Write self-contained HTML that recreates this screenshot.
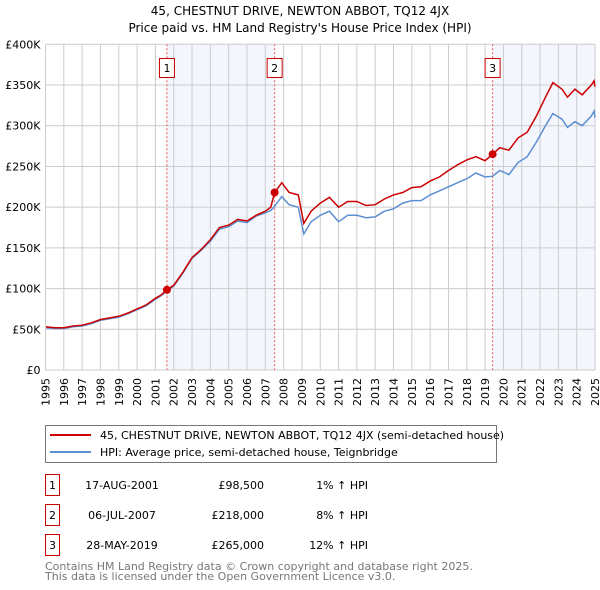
<!DOCTYPE html>
<html><head><meta charset="utf-8">
<style>
body{margin:0;background:#fff;font-family:"DejaVu Sans","Liberation Sans",sans-serif;}
svg{display:block}
</style></head>
<body>
<svg id="chart" width="600" height="590" xmlns="http://www.w3.org/2000/svg" font-family="DejaVu Sans, Liberation Sans, sans-serif">
<text x="300" y="15" text-anchor="middle" font-size="12" fill="#000">45, CHESTNUT DRIVE, NEWTON ABBOT, TQ12 4JX</text>
<text x="300" y="32" text-anchor="middle" font-size="12" fill="#000">Price paid vs. HM Land Registry's House Price Index (HPI)</text>
<g id="plot"></g>
<g>
<rect x="45.5" y="425.5" width="451" height="37" fill="#fff" stroke="#777"/>
<line x1="50" y1="435" x2="91" y2="435" stroke="#cc0000" stroke-width="2"/>
<text x="100" y="439" font-size="11">45, CHESTNUT DRIVE, NEWTON ABBOT, TQ12 4JX (semi-detached house)</text>
<line x1="50" y1="452" x2="91" y2="452" stroke="#5b8fd1" stroke-width="2"/>
<text x="100" y="456" font-size="11">HPI: Average price, semi-detached house, Teignbridge</text>
</g>
<g id="table"></g>
<text x="45" y="570" font-size="11" fill="#777">Contains HM Land Registry data © Crown copyright and database right 2025.</text>
<text x="45" y="580" font-size="11" fill="#777">This data is licensed under the Open Government Licence v3.0.</text>
</svg>
<script>
const years=[1995,1995.5,1996,1996.5,1997,1997.5,1998,1998.5,1999,1999.5,2000,2000.5,2001,2001.3,2001.63,2002,2002.5,2003,2003.5,2004,2004.5,2005,2005.5,2006,2006.5,2007,2007.3,2007.51,2007.9,2008.3,2008.8,2009.1,2009.5,2010,2010.5,2011,2011.5,2012,2012.5,2013,2013.5,2014,2014.5,2015,2015.5,2016,2016.5,2017,2017.5,2018,2018.5,2019,2019.41,2019.8,2020.3,2020.8,2021.3,2021.8,2022.3,2022.7,2023.2,2023.5,2023.9,2024.3,2024.8,2024.95,2025];
const propertyValues=[53,52,52,54,55,58,62,64,66,70,75,80,88,92,98.5,104,120,138,148,160,175,178,185,183,190,195,200,218,230,218,215,180,195,205,212,200,207,207,202,203,210,215,218,224,225,232,237,245,252,258,262,257,265,273,270,285,292,312,335,353,345,335,345,338,350,355,348];
const hpiValues=[52,51,51,53,54,57,61,63,65,69,74,79,87,91,97,103,119,137,147,158,173,176,183,181,189,193,196,201,213,203,200,167,182,190,195,182,190,190,187,188,195,198,205,208,208,215,220,225,230,235,242,237,238,245,240,255,262,280,300,315,308,298,305,300,312,318,310];
const yTicks=[0,50,100,150,200,250,300,350,400];
const yTickLabels=["£0","£50K","£100K","£150K","£200K","£250K","£300K","£350K","£400K"];
const xTicks=[1995,1996,1997,1998,1999,2000,2001,2002,2003,2004,2005,2006,2007,2008,2009,2010,2011,2012,2013,2014,2015,2016,2017,2018,2019,2020,2021,2022,2023,2024,2025];
const saleDates=[2001.63,2007.51,2019.41];
const salePrices=[98.5,218,265];
const saleLabels=["1","2","3"];
const saleDateText=["17-AUG-2001","06-JUL-2007","28-MAY-2019"];
const salePriceText=["£98,500","£218,000","£265,000"];
const saleHpiText=["1% ↑ HPI","8% ↑ HPI","12% ↑ HPI"];

const NS="http://www.w3.org/2000/svg";
const X0=45.5,X1=595,Y0=370,Y1=44.3;
function xs(v){return X0+(v-1995)/(2025-1995)*(X1-X0);}
function ys(v){return Y0-(v/400)*(Y0-Y1);}
function mk(tag,attrs,parent){const e=document.createElementNS(NS,tag);for(const k in attrs)e.setAttribute(k,attrs[k]);parent.appendChild(e);return e;}
const plot=document.getElementById('plot');
mk('rect',{x:X0,y:Y1,width:X1-X0,height:Y0-Y1,fill:'#fff'},plot);
const sh1=mk('rect',{x:xs(saleDates[0]),y:Y1,width:xs(saleDates[1])-xs(saleDates[0]),height:Y0-Y1,fill:'#f3f6fd'},plot);


const sh2=mk('rect',{x:xs(saleDates[2]),y:Y1,width:X1-xs(saleDates[2]),height:Y0-Y1,fill:'#f3f6fd'},plot);


yTicks.forEach((t,i)=>{
  const g=mk('line',{x1:X0,x2:X1,y1:ys(t),y2:ys(t),stroke:'#ccc','stroke-width':1},plot);
  
  
  const l=mk('text',{x:X0-5,y:ys(t)+4,'text-anchor':'end','font-size':11},plot);
  
  
  l.textContent=yTickLabels[i];
});
xTicks.forEach(t=>{
  const g=mk('line',{x1:xs(t),x2:xs(t),y1:Y1,y2:Y0,stroke:'#ccc','stroke-width':1},plot);
  
  
  const l=mk('text',{x:0,y:0,'text-anchor':'end','font-size':11,transform:`translate(${xs(t)+4},${Y0+8}) rotate(-90)`},plot);
  
  
  l.textContent=t;
});
saleDates.forEach((d,i)=>{
  const v=mk('line',{x1:xs(d),x2:xs(d),y1:Y1,y2:Y0,stroke:'#ee5555','stroke-width':1,'stroke-dasharray':'2,2'},plot);
  
  
  const b=mk('rect',{x:xs(d)-7.5,y:58.5,width:15,height:19,fill:'#fff',stroke:'#cc0000'},plot);
  
  
  const t=mk('text',{x:xs(d),y:72,'text-anchor':'middle','font-size':11},plot);
  
  
  t.textContent=saleLabels[i];
});
function path(vals){return vals.map((v,i)=>(i?'L':'M')+xs(years[i]).toFixed(1)+','+ys(v).toFixed(1)).join('');}
const hp=mk('path',{d:path(hpiValues),fill:'none',stroke:'#5b8fd1','stroke-width':1.5},plot);


const pp=mk('path',{d:path(propertyValues),fill:'none',stroke:'#cc0000','stroke-width':1.5},plot);


saleDates.forEach((d,i)=>{
  const c=mk('circle',{cx:xs(d),cy:ys(salePrices[i]),r:4,fill:'#cc0000'},plot);
  
  
});
mk('line',{x1:X0,x2:X0,y1:Y1,y2:Y0,stroke:'#ccc'},plot);
const tb=document.getElementById('table');
const rowY=[483,513,543];
saleLabels.forEach((s,i)=>{
  const y=rowY[i];
  const b=mk('rect',{x:45.5,y:y-8.5,width:14,height:21,fill:'#fff',stroke:'#cc0000'},tb);
  
  
  const n=mk('text',{x:52.5,y:y+6,'text-anchor':'middle','font-size':11},tb);
  
  
  n.textContent=s;
  const d=mk('text',{x:122,y:y+6,'text-anchor':'middle','font-size':11},tb);
  
  
  d.textContent=saleDateText[i];
  const p=mk('text',{x:264,y:y+6,'text-anchor':'end','font-size':11},tb);
  
  
  p.textContent=salePriceText[i];
  const h=mk('text',{x:368,y:y+6,'text-anchor':'end','font-size':11},tb);
  
  
  h.textContent=saleHpiText[i];
});
</script>
</body></html>
